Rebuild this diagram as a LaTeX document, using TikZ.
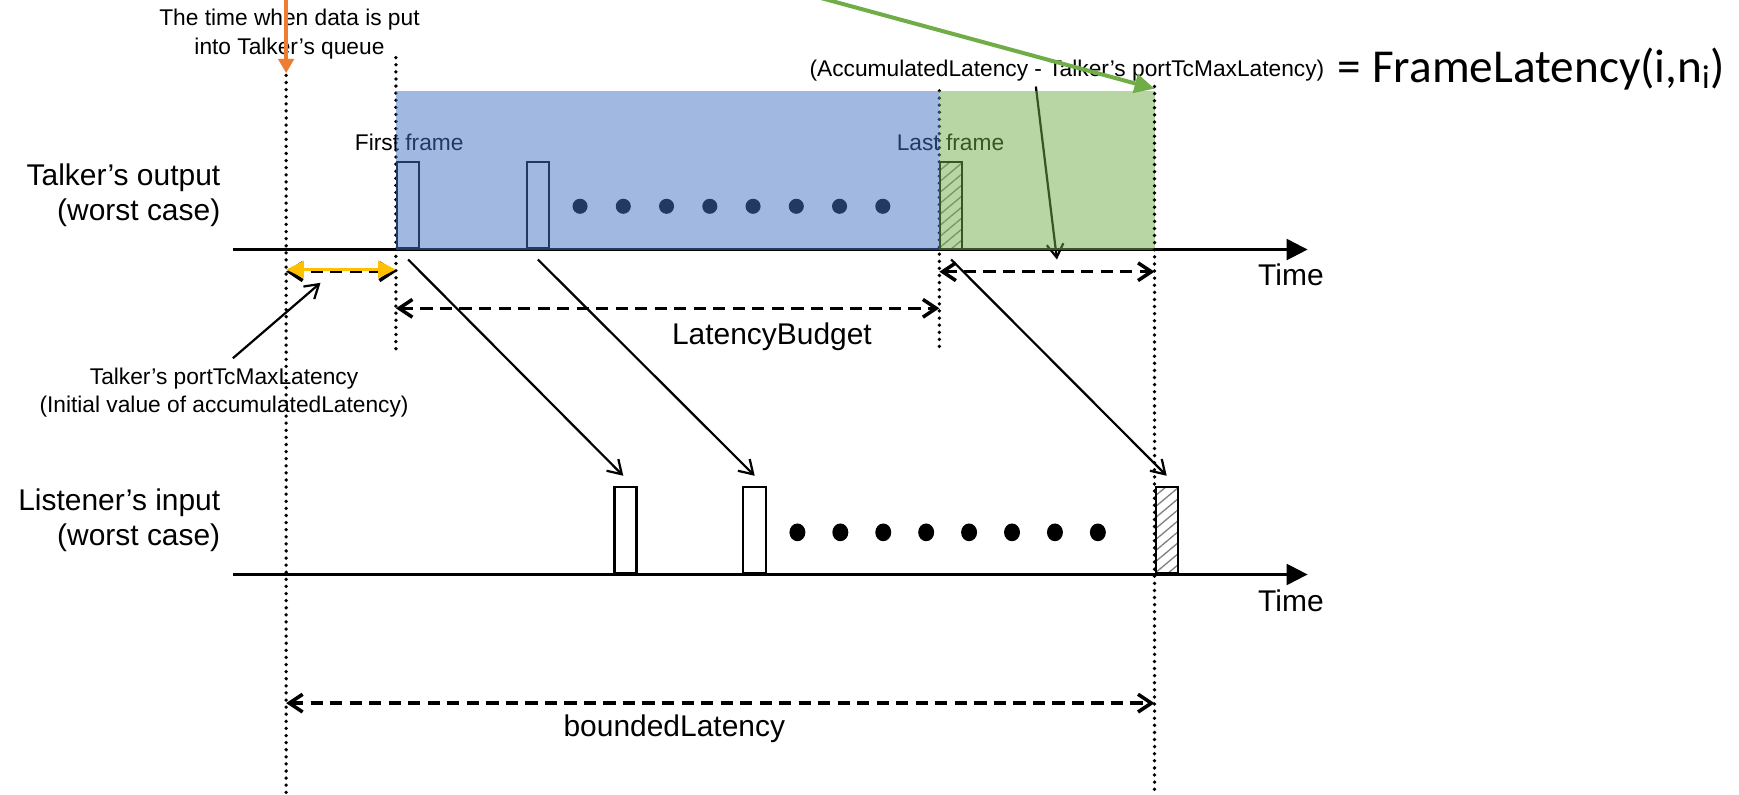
\documentclass[tikz,border=0pt]{standalone}
\usepackage{fontspec}
\setmainfont{Liberation Sans}
\newfontfamily\calib{Carlito}
\usetikzlibrary{arrows.meta,patterns.meta,calc}
\definecolor{blueov}{HTML}{4472C4}
\definecolor{greenov}{HTML}{70AD47}
\definecolor{orangearr}{HTML}{ED7D31}
\definecolor{yellowarr}{HTML}{FFC000}
\begin{document}
\begin{tikzpicture}[x=0.5pt,y=-0.5pt,
  dotline/.style={line width=1.7pt, line cap=round, dash pattern=on 0pt off 3.2pt},
  axisline/.style={line width=1.1pt, -{Triangle[length=9.5pt,width=9.5pt]}},
  framebox/.style={draw, line width=1pt, minimum width=10pt, minimum height=39pt, inner sep=0pt, anchor=south west},
  hatchbox/.style={framebox, pattern={Lines[angle=40,distance=3.8pt,line width=0.6pt]}, pattern color=gray},
  dimarrow/.style={line width=1.6pt, dash pattern=on 5.5pt off 3.3pt, {Straight Barb[length=6pt,width=8pt]}-{Straight Barb[length=6pt,width=8pt]}},
  diagarrow/.style={line width=1pt, -{Straight Barb[length=6pt,width=7.5pt]}},
  biglbl/.style={inner sep=0pt, font=\fontsize{13.5}{16}\selectfont},
  smalllbl/.style={inner sep=0pt, font=\fontsize{10.25}{13}\selectfont},
]
\useasboundingbox (0,0) rectangle (1568,716);

% ---- left labels
\node[biglbl, align=right, anchor=east] (tout) at (199,176) {Talker’s output\\(worst case)};
\node[biglbl, align=right, anchor=east] (lin) at (199,469) {Listener’s input\\(worst case)};

% ---- top label
\node[smalllbl, align=center] (qlbl) at (261,31) {The time when data is put\\into Talker’s queue};
\node[smalllbl, align=center] (plbl) at (202,354) {Talker’s portTcMaxLatency\\(Initial value of accumulatedLatency)};
\node[smalllbl, anchor=base] (acc) at (962,69) {(AccumulatedLatency - Talker’s portTcMaxLatency)};
\node[inner sep=0pt, anchor=base west, font=\calib\fontsize{21.3}{24}\selectfont] (fl) at (1206,74) {= FrameLatency(i,n\textsubscript{i})};

% ---- coordinates
\coordinate (xaT) at (258,68);   \coordinate (xaB) at (258,716);
\coordinate (xbT) at (357,52);   \coordinate (xbB) at (357,316);
\coordinate (xcT) at (847,82);   \coordinate (xcB) at (847,316);
\coordinate (xdT) at (1041,78);  \coordinate (xdB) at (1041,716);

% ---- dotted verticals (under overlay)
\draw[dotline] (xaT) -- (xaB);
\draw[dotline] (xbT) -- (xbB);
\draw[dotline] (xcT) -- (xcB);

% ---- frame labels
\node[smalllbl] (ff) at (369,128) {First frame};
\node[smalllbl] (lf) at (857,128) {Last frame};

% ---- axes
\coordinate (a1s) at (210,225); \coordinate (a1e) at (1179,225);
\coordinate (a2s) at (210,518); \coordinate (a2e) at (1179,518);
\draw[axisline] (a1s) -- (a1e);
\draw[axisline] (a2s) -- (a2e);
\node[biglbl] (time1) at (1164,248) {Time};
\node[biglbl] (time2) at (1164,542) {Time};

% ---- frames top
\node[framebox] (t1) at (357,225) {};
\node[framebox] (t2) at (474,225) {};
\node[hatchbox] (t3) at (847,225) {};
\foreach \i in {0,...,7} \fill ({523+39*\i},186) circle (3.4pt);

% ---- frames bottom
\node[framebox] (l1) at (553,518) {};
\node[framebox, minimum width=10.5pt] (l2) at (669,518) {};
\node[hatchbox] (l3) at (1041,518) {};
\foreach \i in {0,...,7} \fill ({719+38.7*\i},480) ellipse [x radius=3.6pt, y radius=4pt];

% ---- arrow from accumulated label
\coordinate (accS) at (934,78);
\coordinate (accE) at (953,234);
\draw[diagarrow] (accS) -- (accE);

% ---- overlays
\fill[blueov, opacity=0.5] (357,82) rectangle (847,225);
\fill[greenov, opacity=0.5] (847,82) rectangle (1041,225);

\draw[dotline] (xdT) -- (xdB);

% ---- diagonal arrows
\draw[diagarrow] ($(t1.south)+(0,9)$) -- ($(l1.north)+(-2,-9)$);
\draw[diagarrow] ($(t2.south)+(0,9)$) -- ($(l2.north)+(0,-9)$);
\draw[diagarrow] ($(t3.south)+(0,9)$) -- ($(l3.north)+(0,-9)$);

% ---- dimension arrows
\coordinate (d1a) at (258,245); \coordinate (d1b) at (357,245);
\draw[dimarrow] (d1a) -- (d1b);
\draw[yellowarr, line width=1.6pt, {Triangle[length=8pt,width=7.5pt]}-{Triangle[length=8pt,width=7.5pt]}] ($(d1a)+(0,-2)$) -- ($(d1b)+(0,-2)$);
\coordinate (d2a) at (847,245); \coordinate (d2b) at (1041,245);
\draw[dimarrow] (d2a) -- (d2b);
\coordinate (d3a) at (357,278); \coordinate (d3b) at (847,278);
\draw[dimarrow] (d3a) -- (d3b);
\node[biglbl] (lb) at (696,304) {LatencyBudget};
\coordinate (d4a) at (258,634); \coordinate (d4b) at (1041,634);
\draw[dimarrow] (d4a) -- (d4b);
\node[biglbl] (bl) at (608,657) {boundedLatency};

% ---- pointer from portTcMaxLatency label
\coordinate (pS) at (210,323);
\coordinate (pE) at (289,255);
\draw[diagarrow] (pS) -- (pE);

% ---- orange and green arrows
\coordinate (oS) at (258,-6);
\coordinate (oE) at (258,66);
\draw[orangearr, line width=1.6pt, -{Triangle[length=6.5pt,width=7pt]}] (oS) -- (oE);
\coordinate (gS) at (710,-10);
\coordinate (gE) at (1041,80);
\draw[greenov, line width=1.8pt, -{Triangle[length=9pt,width=8.5pt]}] (gS) -- (gE);
\end{tikzpicture}
\end{document}
